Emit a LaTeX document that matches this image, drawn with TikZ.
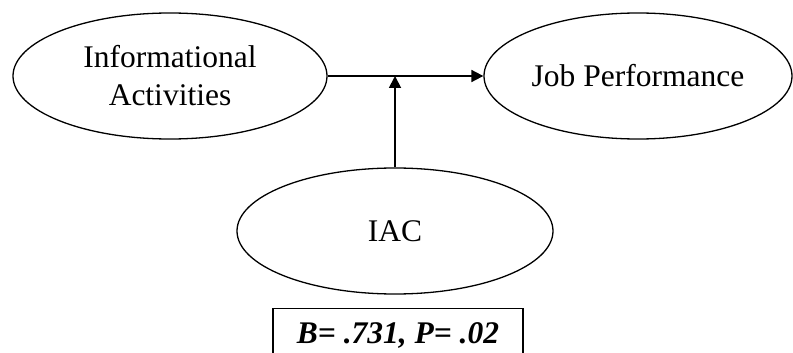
\documentclass[tikz,border=0pt]{standalone}
\usepackage{fontspec}
\setmainfont{Liberation Serif}
\usetikzlibrary{shapes.geometric,arrows.meta}
\tikzset{
  oval/.style={draw, line width=1.3pt, ellipse, minimum width=314pt, minimum height=126pt, inner sep=0pt, align=center, font=\fontsize{31.5}{38}\selectfont},
  arr/.style={line width=1.8pt, -{Triangle[length=12pt,width=12pt]}},
  statbox/.style={draw, line width=1.3pt, minimum width=250pt, inner xsep=0pt, inner ysep=0pt, text height=35pt, text depth=35pt, font=\fontsize{31.5}{38}\selectfont\bfseries\itshape, anchor=north}
}
\begin{document}
\begin{tikzpicture}[x=1pt,y=-1pt]
\useasboundingbox (0,0) rectangle (793,353);
\clip (0,0) rectangle (793,353);
\node[oval] (L) at (170,76) {Informational\\Activities};
\node[oval, minimum width=308pt] (R) at (638,76) {Job Performance};
\node[oval, minimum width=316pt] (I) at (395,231) {IAC};
\node[statbox] (B) at (398,308) {B= .731, P= .02};
\draw[line width=1.8pt] (L.east) -- (I.north |- L.east) coordinate (J);
\draw[arr] (J) -- (R.west);
\draw[arr] (I.north) -- (J);
\end{tikzpicture}
\end{document}
